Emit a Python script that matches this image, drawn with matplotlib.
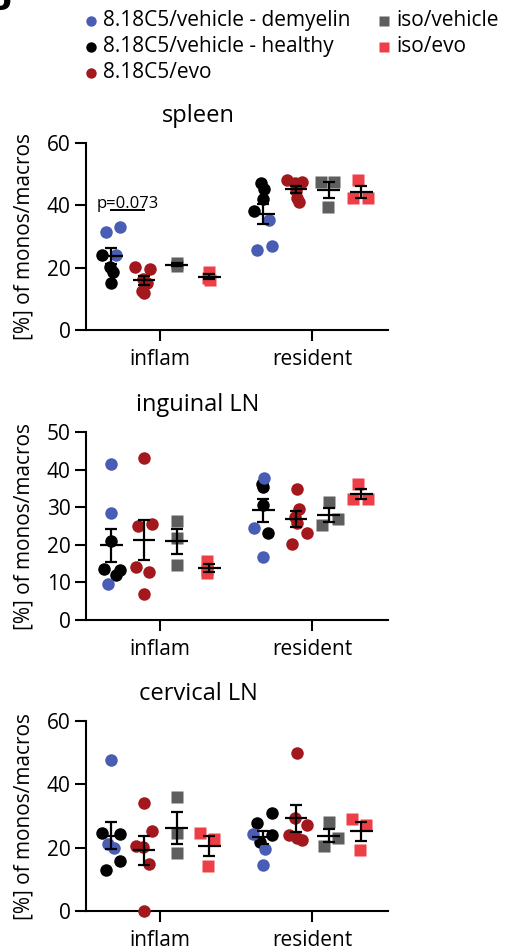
import matplotlib
matplotlib.use("Agg")
import matplotlib.pyplot as plt
from matplotlib.lines import Line2D
import numpy as np

plt.rcParams["font.family"] = ["Open Sans", "DejaVu Sans"]

W, H = 511, 949

categories = ["inflam", "resident"]
group_labels = ["8.18C5/vehicle - demyelin", "8.18C5/vehicle - healthy",
                "8.18C5/evo", "iso/vehicle", "iso/evo"]
group_colors = ["#4a5db5", "#000000", "#a3181c", "#5e5e5e", "#ee3f46"]

# values per category: [inflam, resident]
spleen_demyelin = [[31.5, 33.2, 24.0], [35.3, 25.7, 27.0]]
spleen_healthy = [[24.1, 20.3, 18.7, 15.0], [47.1, 45.4, 42.0, 38.3]]
spleen_evo = [[20.3, 19.5, 16.5, 15.0, 12.5, 11.8], [48.1, 47.6, 47.1, 44.5, 42.2, 41.0]]
spleen_iso_vehicle = [[21.6, 20.4], [47.6, 47.6, 39.6]]
spleen_iso_evo = [[18.6, 16.6, 15.9], [48.1, 42.2, 42.2]]

inguinal_demyelin = [[41.5, 28.4, 9.5], [37.7, 24.4, 16.7]]
inguinal_healthy = [[21.0, 13.5, 12.0, 13.3], [36.2, 35.5, 30.6, 23.2]]
inguinal_evo = [[43.0, 25.0, 25.5, 14.0, 12.8, 6.9], [34.8, 29.4, 27.5, 25.7, 23.2, 20.2]]
inguinal_iso_vehicle = [[26.4, 21.7, 14.6], [31.5, 25.3, 26.8]]
inguinal_iso_evo = [[15.8, 13.2, 12.4], [36.2, 32.1, 32.1]]

cervical_demyelin = [[47.7, 21.2, 19.8], [24.2, 19.6, 14.5]]
cervical_healthy = [[24.7, 24.3, 15.9, 12.9], [30.8, 27.8, 24.0, 21.8]]
cervical_evo = [[34.2, 25.3, 20.5, 20.2, 14.8, 0.0], [49.8, 29.4, 27.3, 24.0, 22.9, 22.4]]
cervical_iso_vehicle = [[35.9, 24.5, 18.2], [28.0, 20.6, 22.9]]
cervical_iso_evo = [[24.5, 22.6, 14.2], [29.2, 27.2, 19.3]]

# horizontal scatter of the dots (pixels from the column centre)
spleen_jitter = [
    [[-5, 9, 5], [6, -6, 9]],
    [[-9, -1, 2, 0], [-2, 1, 0, -9]],
    [[-9, 6, -1, 3, -2, 0], [-9, 6, -1, 0, 1, 3]],
    [[0, 0], [-8, 5, -1]],
    [[0, -1, 1], [-3, -8, 7]],
]
inguinal_jitter = [
    [[0, 0, -3], [1, -9, 0]],
    [[0, -7, 5, 9], [-1, 0, 0, 5]],
    [[0, -6, 8, -8, 5, 0], [1, 3, -1, 1, 11, -4]],
    [[0, 0, 0], [0, -7, 9]],
    [[-2, -2, -2], [-3, -8, 7]],
]
cervical_jitter = [
    [[0, -3, 3], [-10, 2, 0]],
    [[-9, 9, 9, -5], [9, -6, 9, -3]],
    [[0, 8, -8, -1, 5, 0], [1, -1, 11, -7, 1, 6]],
    [[0, 0, 0], [0, -5, 9]],
    [[-9, 5, -1], [-9, 5, -1]],
]

PX_PER_UNIT = 152.0
COL_OFFSETS = [-0.32, -0.32, -0.105, 0.11, 0.325]
MARKERS = ["o", "o", "o", "s", "s"]
FS = 15


def fig_rect(left, top, right, bottom):
    return [left / W, 1 - bottom / H, (right - left) / W, (bottom - top) / H]


def mean_sem(ax, x, vals):
    vals = np.asarray(vals, dtype=float)
    m = vals.mean()
    sem = vals.std(ddof=1) / np.sqrt(len(vals))
    ax.errorbar(x, m, yerr=sem, fmt="none", ecolor="black", elinewidth=1.6,
                capsize=4, capthick=1.6, zorder=6, clip_on=False)
    ax.hlines(m, x - 0.075, x + 0.075, color="black", lw=1.6, zorder=6)


def draw_panel(ax, title, series, jitter, ymax, ystep, title_y):
    # healthy first so the demyelin dots sit on top
    order = [1, 0, 2, 3, 4]
    for ci in range(len(categories)):
        for gi in order:
            vals = series[gi][ci]
            xs = ci + COL_OFFSETS[gi] + np.array(jitter[gi][ci]) / PX_PER_UNIT
            ms = 9 if MARKERS[gi] == "o" else 8
            ax.plot(xs, vals, MARKERS[gi], color=group_colors[gi], ms=ms,
                    mec="none", clip_on=False, zorder=3)
        # vehicle column pools demyelin + healthy animals
        mean_sem(ax, ci + COL_OFFSETS[0], series[0][ci] + series[1][ci])
        for gi in (2, 3, 4):
            mean_sem(ax, ci + COL_OFFSETS[gi], series[gi][ci])

    ax.set_xlim(-0.487, 1.5)
    ax.set_ylim(0, ymax)
    ax.set_yticks(np.arange(0, ymax + 1, ystep))
    ax.set_xticks(range(len(categories)))
    ax.set_xticklabels(categories)
    for side in ("top", "right"):
        ax.spines[side].set_visible(False)
    for side in ("left", "bottom"):
        ax.spines[side].set_linewidth(1.5)
    ax.tick_params(axis="both", width=1.5, length=8, labelsize=FS)
    ax.tick_params(axis="y", pad=3)
    ax.tick_params(axis="x", pad=5.5)
    ax.patch.set_alpha(0)
    fig.text(198 / W, 1 - title_y / H, title, ha="center", va="baseline", fontsize=17)
    bb = ax.get_position()
    fig.text(24 / W, bb.y0 + bb.height / 2, "[%] of monos/macros", rotation=90,
             ha="center", va="center", fontsize=FS)


fig = plt.figure(figsize=(W / 100, H / 100), dpi=100)

ax1 = fig.add_axes(fig_rect(86, 143, 388, 330))
draw_panel(ax1, "spleen",
           [spleen_demyelin, spleen_healthy, spleen_evo, spleen_iso_vehicle, spleen_iso_evo],
           spleen_jitter, 60, 20, 122)

# comparison between vehicle and evo in spleen inflam
x_a, x_b = COL_OFFSETS[0], COL_OFFSETS[2]
ax1.plot([x_a, x_b], [38.5, 38.5], color="black", lw=1.4)
ax1.text((x_a + x_b) / 2, 39.3, "p=0.073", ha="center", va="baseline", fontsize=12)

ax2 = fig.add_axes(fig_rect(86, 432, 388, 620))
draw_panel(ax2, "inguinal LN",
           [inguinal_demyelin, inguinal_healthy, inguinal_evo, inguinal_iso_vehicle, inguinal_iso_evo],
           inguinal_jitter, 50, 10, 411)

ax3 = fig.add_axes(fig_rect(86, 721, 388, 911))
draw_panel(ax3, "cervical LN",
           [cervical_demyelin, cervical_healthy, cervical_evo, cervical_iso_vehicle, cervical_iso_evo],
           cervical_jitter, 60, 20, 700)

# legend in two columns
legend_slots = [(90.7, 20.7), (90.7, 46.7), (90.7, 72.7), (384, 20.7), (384, 46.7)]
for (lx, ly), label, color, mk in zip(legend_slots, group_labels, group_colors, MARKERS):
    fig.add_artist(Line2D([lx / W], [1 - ly / H], marker=mk, color=color, ms=7.5 if mk == "o" else 7,
                          mec="none", ls="none", transform=fig.transFigure))
    fig.text((lx + 12) / W, 1 - ly / H, label, ha="left", va="center", fontsize=FS)

# panel letter, cut at the top edge
fig.text(13 / W, 1 - 10 / H, "J", ha="right", va="bottom", fontsize=24,
         fontweight="bold", family="DejaVu Sans")

fig.savefig("out.png", dpi=100)
